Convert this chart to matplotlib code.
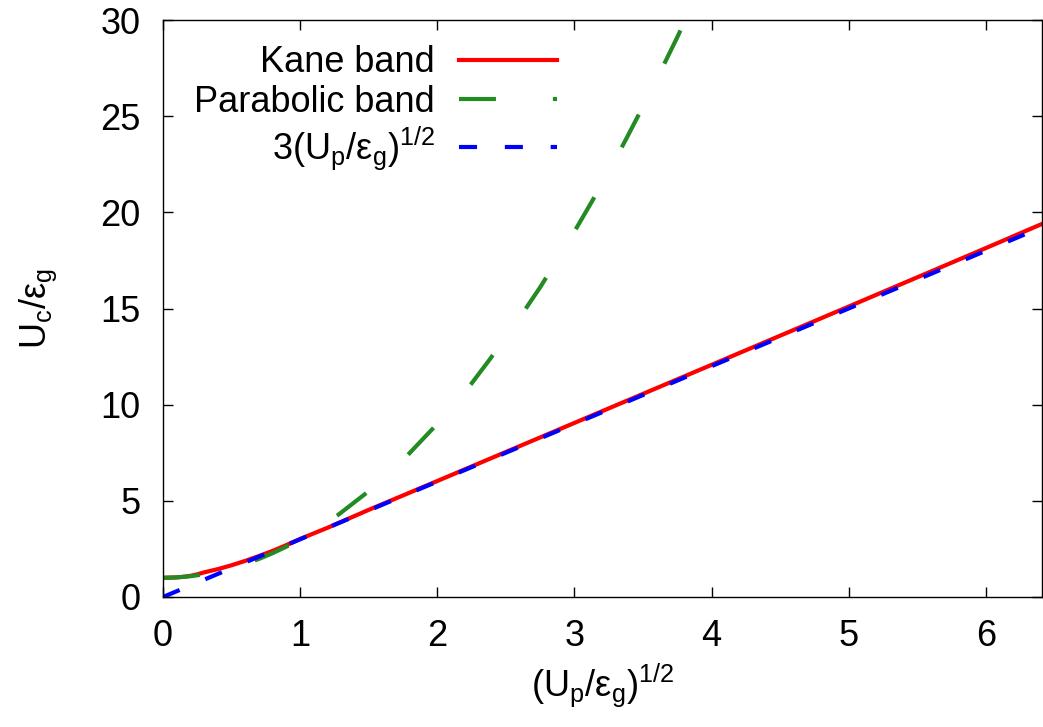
import matplotlib
matplotlib.use('Agg')
import matplotlib.pyplot as plt
import numpy as np

plt.rcParams['font.family'] = ['Liberation Sans', 'DejaVu Sans']
plt.rcParams['mathtext.fontset'] = 'custom'
plt.rcParams['mathtext.rm'] = 'Liberation Sans'
plt.rcParams['mathtext.it'] = 'Liberation Sans'
plt.rcParams['lines.scale_dashes'] = False

# values
x_kane = [0, 0.05, 0.1, 0.15, 0.2, 0.25, 0.3, 0.4, 0.5, 0.6, 0.7, 0.8, 0.9, 1.0,
          1.2, 1.5, 2.0, 2.5, 3.0, 4.0, 5.0, 6.0, 6.45]
y_kane = [1.0, 1.005, 1.02, 1.05, 1.1, 1.18, 1.28, 1.45, 1.65, 1.88, 2.13, 2.4,
          2.7, 3.02, 3.6, 4.53, 6.03, 7.54, 9.05, 12.07, 15.1, 18.14, 19.52]

x_para = [0, 0.1, 0.2, 0.3, 0.4, 0.5, 0.6, 0.7, 0.8, 0.9, 1.0, 1.25, 1.5, 1.75,
          2.0, 2.125, 2.25, 2.375, 2.5, 2.625, 2.75, 2.875, 3.0, 3.125, 3.25,
          3.375, 3.5, 3.625, 3.75, 3.9]
y_para = [1.0, 1.02, 1.08, 1.18, 1.32, 1.5, 1.72, 1.98, 2.28, 2.62, 3.0, 4.12,
          5.5, 7.12, 9.0, 10.03, 11.1, 12.28, 13.5, 14.78, 16.1, 17.53, 19.0,
          20.53, 22.1, 23.78, 25.5, 27.28, 29.1, 31.4]

x_lin = [0, 6.45]
y_lin = [0, 19.35]

labels = ['Kane band', 'Parabolic band', r'$\mathregular{3(U_p/ε_g)^{1/2}}$']

fs = 26
fig = plt.figure(figsize=(10.43, 7.27), dpi=100)
ax = fig.add_axes([163/1043, 1 - 597/727, (1042 - 163)/1043, (597 - 20)/727])

lw = 3.0
ax.plot(x_kane, y_kane, color='#ff0000', lw=lw, label=labels[0])
ax.plot(x_para, y_para, color='#228b22', lw=lw, dashes=(26.6, 41), dash_capstyle='butt',
        label=labels[1])
ax.plot(x_lin, y_lin, color='#0000ff', lw=lw, dashes=(13, 20), dash_capstyle='butt',
        label=labels[2])

ax.set_xlim(0, 6.41)
ax.set_ylim(0, 30)
ax.set_xticks([0, 1, 2, 3, 4, 5, 6])
ax.set_yticks([0, 5, 10, 15, 20, 25, 30])
ax.tick_params(direction='in', length=7, width=1, labelsize=fs, pad=16,
               top=True, right=True)
for s in ax.spines.values():
    s.set_linewidth(1)

ax.set_xlabel(r'$\mathregular{(U_p/ε_g)^{1/2}}$', fontsize=fs, labelpad=5)
ax.set_ylabel(r'$\mathregular{U_c/ε_g}$', fontsize=fs, labelpad=30)

ax.legend(loc='upper left', bbox_to_anchor=(0.005, 1.003), frameon=False, fontsize=fs,
          markerfirst=False, handlelength=2.71, handletextpad=0.66,
          labelspacing=0.13, borderpad=0.25)

fig.savefig('out.png', dpi=100)
